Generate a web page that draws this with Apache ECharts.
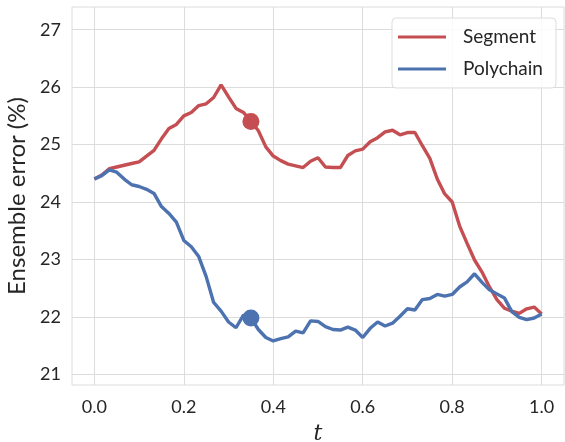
<!DOCTYPE html>
<html>
<head>
<meta charset="utf-8">
<script src="https://cdn.jsdelivr.net/npm/echarts@6/dist/echarts.min.js"></script>
<style>
  html, body { margin: 0; padding: 0; background: #fff; }
  #chart { width: 565px; height: 442px; }
</style>
</head>
<body>
<div id="chart"></div>
<script>
// t sampled every 1/60
const tValues = Array.from({ length: 61 }, (_, i) => i / 60);

const segment = [
  24.40, 24.47, 24.58, 24.61, 24.64, 24.67, 24.70, 24.80, 24.90, 25.10,
  25.28, 25.35, 25.50, 25.56, 25.68, 25.71, 25.82, 26.04, 25.83, 25.63,
  25.56, 25.41, 25.24, 24.96, 24.80, 24.72, 24.66, 24.63, 24.60, 24.71,
  24.77, 24.61, 24.60, 24.60, 24.81, 24.89, 24.92, 25.05, 25.12, 25.22,
  25.25, 25.17, 25.21, 25.21, 24.98, 24.76, 24.40, 24.14, 24.00, 23.58,
  23.28, 22.99, 22.78, 22.52, 22.30, 22.15, 22.10, 22.06, 22.14, 22.17,
  22.05
];

const polychain = [
  24.40, 24.46, 24.56, 24.52, 24.40, 24.30, 24.27, 24.22, 24.15, 23.92,
  23.80, 23.65, 23.33, 23.22, 23.05, 22.70, 22.25, 22.10, 21.91, 21.81,
  22.03, 21.98, 21.78, 21.64, 21.58, 21.62, 21.65, 21.75, 21.72, 21.93,
  21.92, 21.83, 21.78, 21.77, 21.82, 21.77, 21.64, 21.80, 21.91, 21.84,
  21.89, 22.01, 22.14, 22.12, 22.30, 22.32, 22.39, 22.36, 22.39, 22.52,
  22.61, 22.75, 22.60, 22.47, 22.40, 22.33, 22.09, 21.99, 21.95, 21.98,
  22.05
];

// highlighted points
const markerT = 0.35;
const markerSegment = 25.40;
const markerPolychain = 21.98;

const xTicks = [0, 0.2, 0.4, 0.6, 0.8, 1.0];
const yTicks = [21, 22, 23, 24, 25, 26, 27];

const RED = '#C44E52';
const BLUE = '#4C72B0';
const TEXT = '#262626';
const GRID = '#dcdcdc';
const FONT = 'Lato';

const chart = echarts.init(document.getElementById('chart'));

const option = {
  animation: false,
  backgroundColor: '#fff',
  grid: {
    left: 72,
    right: 1,
    top: 7,
    bottom: 57,
    outerBoundsMode: 'none',
    show: true,
    borderColor: GRID,
    borderWidth: 1
  },
  legend: {
    data: ['Segment', 'Polychain'],
    orient: 'vertical',
    left: 392,
    top: 18,
    icon: 'rect',
    itemWidth: 48,
    itemHeight: 3,
    itemGap: 12,
    padding: [9, 13, 9, 6],
    backgroundColor: 'rgba(255,255,255,0.85)',
    borderColor: '#dddddd',
    borderWidth: 1,
    borderRadius: 4,
    textStyle: {
      color: TEXT,
      fontFamily: FONT,
      fontSize: 19,
      lineHeight: 20,
      padding: [0, 0, 0, 12]
    }
  },
  xAxis: {
    type: 'value',
    min: -0.05,
    max: 1.05,
    name: 't',
    nameLocation: 'middle',
    nameGap: 38,
    nameTextStyle: {
      color: TEXT,
      fontFamily: 'DejaVu Serif',
      fontStyle: 'italic',
      fontSize: 22
    },
    axisLine: { show: false },
    axisTick: { show: false, customValues: xTicks },
    axisLabel: {
      customValues: xTicks,
      color: TEXT,
      fontFamily: FONT,
      fontSize: 18,
      margin: 13,
      formatter: v => v.toFixed(1)
    },
    splitLine: { show: true, lineStyle: { color: GRID, width: 1 } }
  },
  yAxis: {
    type: 'value',
    min: 20.813,
    max: 27.396,
    name: 'Ensemble error (%)',
    nameLocation: 'middle',
    nameGap: 36,
    nameTextStyle: {
      color: TEXT,
      fontFamily: FONT,
      fontSize: 24
    },
    axisLine: { show: false },
    axisTick: { show: false, customValues: yTicks },
    axisLabel: {
      customValues: yTicks,
      color: TEXT,
      fontFamily: FONT,
      fontSize: 18,
      margin: 11
    },
    splitLine: { show: true, lineStyle: { color: GRID, width: 1 } }
  },
  series: [
    {
      name: 'Segment',
      type: 'line',
      data: tValues.map((t, i) => [t, segment[i]]),
      showSymbol: false,
      itemStyle: { color: RED },
      lineStyle: { color: RED, width: 3.4 }
    },
    {
      name: 'Polychain',
      type: 'line',
      data: tValues.map((t, i) => [t, polychain[i]]),
      showSymbol: false,
      itemStyle: { color: BLUE },
      lineStyle: { color: BLUE, width: 3.4 }
    },
    {
      name: 'segMarker',
      type: 'scatter',
      data: [[markerT, markerSegment]],
      symbolSize: 17,
      itemStyle: { color: RED, opacity: 1 },
      z: 3
    },
    {
      name: 'polyMarker',
      type: 'scatter',
      data: [[markerT, markerPolychain]],
      symbolSize: 17,
      itemStyle: { color: BLUE, opacity: 1 },
      z: 3
    }
  ]
};

chart.setOption(option);
</script>
</body>
</html>
